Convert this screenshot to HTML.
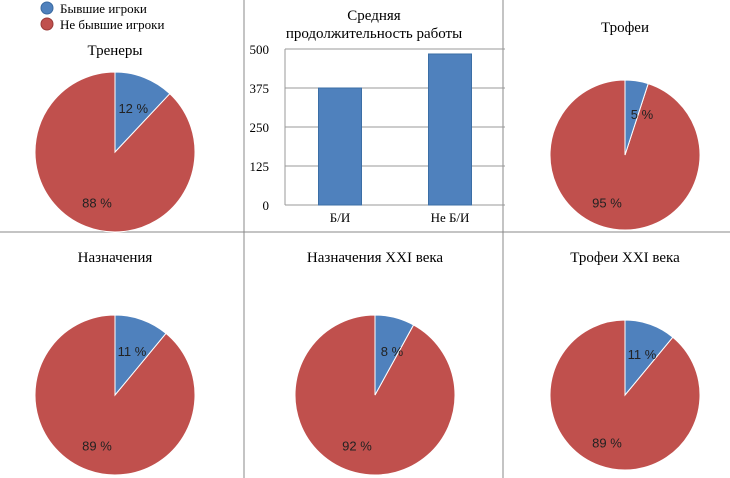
<!DOCTYPE html>
<html><head><meta charset="utf-8"><style>
body{margin:0;background:#fff;}
svg{display:block;font-family:"Liberation Serif","DejaVu Serif",serif;}
</style></head><body>
<svg id="c" width="730" height="478" xmlns="http://www.w3.org/2000/svg">
<line x1="244" y1="0" x2="244" y2="478" stroke="#888"/>
<line x1="503" y1="0" x2="503" y2="478" stroke="#888"/>
<line x1="0" y1="232" x2="730" y2="232" stroke="#888"/>
<g>
<circle cx="47" cy="8" r="6" fill="#4f81bd" stroke="#3a6aa0"/>
<text x="60" y="13" font-size="13">Бывшие игроки</text>
<circle cx="47" cy="24" r="6" fill="#c0504d" stroke="#9a3a38"/>
<text x="60" y="29" font-size="13">Не бывшие игроки</text>
</g>
<text x="374" y="20" font-size="15" text-anchor="middle">Средняя</text>
<text x="374" y="38" font-size="15" text-anchor="middle">продолжительность работы</text>
<g id="bars"></g>
<g id="pies"></g>
</svg>
<script>
const NS="http://www.w3.org/2000/svg";
const barCats=["Б/И","Не Б/И"];
const barVals=[375,484];
const barTicks=[0,125,250,375,500];
const pieTitles=["Тренеры","Трофеи","Назначения","Назначения XXI века","Трофеи XXI века"];
const pieFormer=[12,5,11,8,11];
const pieNonFormer=[88,95,89,92,89];
function mk(t,a,p){const e=document.createElementNS(NS,t);for(const k in a)e.setAttribute(k,a[k]);p.appendChild(e);return e;}
// bar chart
const bg=document.getElementById('bars');
const x0=285,x1=505,yTop=49,yBot=205,yMax=500;
const yS=v=>yBot-(v/yMax)*(yBot-yTop);
barTicks.forEach(t=>{
 const l=mk('line',{x1:x0,x2:x1,y1:yS(t),y2:yS(t),stroke:'#999'},bg);
 
 
 const tx=mk('text',{x:269,y:yS(t)+5,'font-size':13,'text-anchor':'end'},bg);
 tx.textContent=t;
 
 
});
const ax=mk('line',{x1:x0,x2:x0,y1:yTop,y2:yBot,stroke:'#999'},bg);


const band=(x1-x0)/barCats.length,bw=43;
barCats.forEach((c,i)=>{
 const cx=x0+band*(i+0.5);
 const r=mk('rect',{x:cx-bw/2,y:yS(barVals[i]),width:bw,height:yBot-yS(barVals[i]),fill:'#4f81bd',stroke:'#3b6ea5'},bg);
 
 
 const tx=mk('text',{x:cx,y:222,'font-size':13,'text-anchor':'middle'},bg);
 tx.textContent=c;
 
 
});
// pies
const pg=document.getElementById('pies');
const pos=[[115,152,80,115,55],[625,155,75,625,32],[115,395,80,115,262],[375,395,80,375,262],[625,395,75,625,262]];
function pt(cx,cy,r,f){const a=f*2*Math.PI;return [cx+r*Math.sin(a),cy-r*Math.cos(a)];}
pieTitles.forEach((t,i)=>{
 const [cx,cy,r,tx,ty]=pos[i];
 const g=mk('g',{},pg);
 
 
 const tt=mk('text',{x:tx,y:ty,'font-size':15,'text-anchor':'middle'},g);
 tt.textContent=t;
 
 
 const tot=pieFormer[i]+pieNonFormer[i];
 const f=pieFormer[i]/tot;
 const p1=pt(cx,cy,r,f);
 const red=mk('path',{d:`M${cx},${cy}L${p1[0]},${p1[1]}A${r},${r} 0 ${f<0.5?1:0} 1 ${cx},${cy-r}Z`,fill:'#c0504d',stroke:'#fff','stroke-width':1},g);
 
 
 const blue=mk('path',{d:`M${cx},${cy}L${cx},${cy-r}A${r},${r} 0 ${f>0.5?1:0} 1 ${p1[0]},${p1[1]}Z`,fill:'#4f81bd',stroke:'#fff','stroke-width':1},g);
 
 
 const lb=pt(cx,cy,r*0.62,f/2);
 const l1=mk('text',{x:Math.max(lb[0],cx+17),y:cy-r*0.55+5,'font-size':13,'text-anchor':'middle',fill:'#222','font-family':'Liberation Sans,sans-serif'},g);
 l1.textContent=pieFormer[i]+' %';
 
 
 const l2=mk('text',{x:cx-18,y:cy+r*0.63+5,'font-size':13,'text-anchor':'middle',fill:'#222','font-family':'Liberation Sans,sans-serif'},g);
 l2.textContent=pieNonFormer[i]+' %';
 
 
});
</script>
</body></html>
